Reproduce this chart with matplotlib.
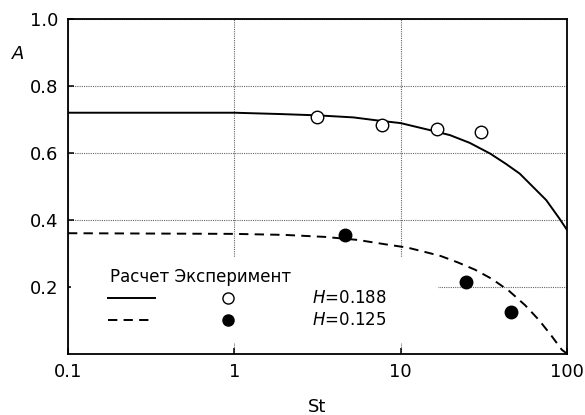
import numpy as np
import matplotlib
matplotlib.use('Agg')
import matplotlib.pyplot as plt
from matplotlib.patches import Rectangle

plt.rcParams['font.family'] = ['DejaVu Sans']

# calculated curves
st_h188 = [0.1, 1, 1.9, 3.2, 5.2, 7.5, 10, 15, 19.8, 26, 34.5, 43, 52, 75, 90, 100]
a_h188 = [0.72, 0.72, 0.716, 0.712, 0.706, 0.696, 0.689, 0.668, 0.653, 0.630, 0.598,
          0.567, 0.538, 0.459, 0.404, 0.37]

st_h125 = [0.1, 1, 2, 3.5, 5.5, 8.3, 11, 14, 17.4, 22, 28, 35.5, 45, 56, 68, 80, 93, 100]
a_h125 = [0.36, 0.358, 0.355, 0.349, 0.340, 0.326, 0.317, 0.304, 0.292, 0.273, 0.251,
          0.223, 0.187, 0.145, 0.10, 0.056, 0.012, 0.0]

# experiment
st_exp188 = [3.16, 7.7, 16.5, 30.4]
a_exp188 = [0.708, 0.682, 0.672, 0.662]
st_exp125 = [4.63, 24.6, 46.1]
a_exp125 = [0.356, 0.214, 0.124]

xticks = [0.1, 1, 10, 100]
xticklabels = ['0.1', '1', '10', '100']
yticks = [0.2, 0.4, 0.6, 0.8, 1.0]
yticklabels = ['0.2', '0.4', '0.6', '0.8', '1.0']

fig = plt.figure(figsize=(5.85, 4.15), dpi=100)
ax = fig.add_axes([0.1162, 0.1477, 0.853, 0.8065])

ax.set_xscale('log')
ax.set_xlim(0.1, 100)
ax.set_ylim(0, 1.0)
ax.set_xticks(xticks, xticklabels)
ax.set_xticks([], minor=True)
ax.set_yticks(yticks, yticklabels)
ax.tick_params(direction='in', length=4, width=1.1, labelsize=13)
ax.tick_params(axis='y', pad=7)
ax.tick_params(axis='x', pad=7)
for s in ax.spines.values():
    s.set_linewidth(1.3)

ax.set_axisbelow(True)
ax.grid(True, color='#666666', linestyle=(0, (1, 1)), linewidth=0.8)

# white area under the legend hides the grid
ax.add_patch(Rectangle((0.007, 0.032), 0.734, 0.258, transform=ax.transAxes,
                       facecolor='white', edgecolor='none', zorder=1))

ax.plot(st_h188, a_h188, color='black', lw=1.4, zorder=2)
ax.plot(st_h125, a_h125, color='black', lw=1.4, dashes=(4.8, 3.2), zorder=2)
ax.plot(st_exp188, a_exp188, 'o', ms=9, mfc='white', mec='black', mew=1.0, zorder=3)
ax.plot(st_exp125, a_exp125, 'o', ms=9, mfc='black', mec='black', zorder=3)

# legend
tr = ax.transAxes
ax.text(0.084, 0.23, 'Расчет Эксперимент', transform=tr, fontsize=12,
        va='center', ha='left')
ax.plot([0.081, 0.175], [0.165, 0.165], transform=tr, color='black', lw=1.4)
ax.plot([0.081, 0.166], [0.1, 0.1], transform=tr, color='black', lw=1.4, dashes=(4.8, 3.2))
ax.plot([0.32], [0.165], 'o', transform=tr, ms=8, mfc='white', mec='black', mew=1.0)
ax.plot([0.32], [0.1], 'o', transform=tr, ms=8, mfc='black', mec='black')
ax.text(0.49, 0.165, '$H$=0.188', transform=tr, fontsize=12, va='center', ha='left')
ax.text(0.49, 0.1, '$H$=0.125', transform=tr, fontsize=12, va='center', ha='left')

ax.set_xlabel('St', fontsize=13)
ax.xaxis.set_label_coords(0.5, -0.132)
ax.text(-0.1, 0.894, 'A', transform=tr, fontsize=13, style='italic',
        ha='center', va='center')

fig.savefig('out.png', dpi=100)
